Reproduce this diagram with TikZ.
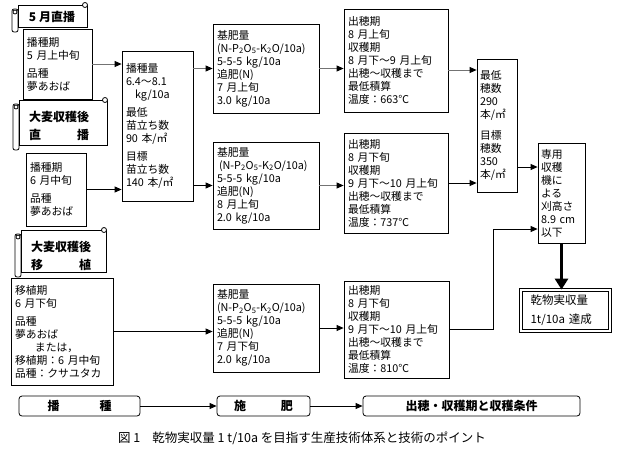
\documentclass[tikz,border=0pt]{standalone}
\usepackage{fontspec}
\setmainfont{Noto Sans CJK JP}
\usetikzlibrary{arrows.meta}

% scroll shaped banner: main rectangle (x1,y1)-(x2,y2), roll on the left
\newcommand{\scrollbanner}[4]{%
  \draw[fill=white, rounded corners=2pt] (#1,#2+4) -- (#1-6,#2+4) -- (#1-6,#4+5) -- (#1,#4+5) -- cycle;
  \draw[fill=white] (#1,#2) rectangle (#3,#4);
  \draw (#1-3,#2+7) circle (2pt);
  \draw[fill=white] (#3-2,#2) circle (2.5pt);
}

\tikzset{
  box/.style={draw, fill=white, align=left, inner sep=4pt,
    font=\fontsize{10.8}{13}\selectfont},
  bantext/.style={align=left, inner sep=0pt,
    font=\bfseries\fontsize{12}{18}\selectfont},
  stagebox/.style={draw, rounded corners=3pt, minimum height=20pt, inner sep=0pt,
    font=\bfseries\fontsize{12}{14}\selectfont},
  conn/.style={-{Triangle[length=7pt,width=6pt]}},
  grayconn/.style={draw=black!55, -{Triangle[length=7pt,width=6pt,color=black]}},
  bigconn/.style={line width=3pt, -{Triangle[length=11pt,width=13pt]}}
}

\begin{document}
\begin{tikzpicture}[x=1pt, y=-1pt, line width=0.8pt]
  \useasboundingbox (0,0) rectangle (618,448);

  % Banners
  \scrollbanner{18}{5}{87}{27}
  \scrollbanner{19}{100}{107}{145}
  \scrollbanner{21}{230}{106}{272}
  \node[bantext] (ban1) at (52,16.5) {5 月直播};
  \node[bantext] (ban2) at (59,126) {大麦収穫後\\\makebox[60pt]{直\hfill 播}};
  \node[bantext] (ban3) at (61,256) {大麦収穫後\\\makebox[60pt]{移\hfill 植}};

  % Sowing
  \node[box, minimum width=69pt, minimum height=70pt, text width=61pt] (A1) at (57.5,64)
    {播種期\\5 月上中旬\\[5pt]品種\\夢あおば};
  \node[box, minimum width=60pt, minimum height=73pt, text width=52pt] (A2) at (56,189.5)
    {播種期\\6 月中旬\\[5pt]品種\\夢あおば};
  \node[box, minimum width=102pt, minimum height=107pt, text width=94pt] (A3) at (62,331.5)
    {移植期\\6 月下旬\\[5pt]品種\\夢あおば\\\hspace*{20pt}または，\\移植期：6 月中旬\\品種：クサユタカ};
  \node[box, minimum width=71pt, minimum height=150pt, text width=63pt] (B1) at (157.5,126)
    {播種量\\6.4～8.1\\\hspace*{9pt}kg/10a\\[5pt]最低\\苗立ち数\\90 本/㎡\\[5pt]目標\\苗立ち数\\140 本/㎡};

  % Fertilizer
  \node[box, minimum width=106pt, minimum height=89pt, text width=98pt] (C1) at (266,68.5)
    {基肥量\\(N-P\textsubscript{2}O\textsubscript{5}-K\textsubscript{2}O/10a)\\5-5-5 kg/10a\\追肥(N)\\7 月上旬\\3.0 kg/10a};
  \node[box, minimum width=106pt, minimum height=87pt, text width=98pt] (C2) at (266,185.5)
    {基肥量\\\hspace*{2pt}(N-P\textsubscript{2}O\textsubscript{5}-K\textsubscript{2}O/10a)\\5-5-5 kg/10a\\追肥(N)\\8 月上旬\\2.0 kg/10a};
  \node[box, minimum width=106pt, minimum height=88pt, text width=98pt] (C3) at (266,328)
    {基肥量\\(N-P\textsubscript{2}O\textsubscript{5}-K\textsubscript{2}O/10a)\\5-5-5 kg/10a\\追肥(N)\\7 月下旬\\2.0 kg/10a};

  % Heading and harvest
  \node[box, minimum width=104pt, minimum height=103pt, text width=96pt] (D1) at (396,60.5)
    {出穂期\\8 月上旬\\収穫期\\8 月下～9 月上旬\\出穂～収穫まで\\最低積算\\温度：663℃};
  \node[box, minimum width=104pt, minimum height=100pt, text width=96pt] (D2) at (396,183)
    {出穂期\\8 月下旬\\収穫期\\9 月下～10 月上旬\\出穂～収穫まで\\最低積算\\温度：737℃};
  \node[box, minimum width=105pt, minimum height=97pt, text width=97pt] (D3) at (396.5,329.5)
    {出穂期\\8 月下旬\\収穫期\\9 月下～10 月上旬\\出穂～収穫まで\\最低積算\\温度：810℃};
  \node[box, minimum width=40pt, minimum height=133pt, text width=34pt, inner sep=3pt] (E) at (497,125.5)
    {最低\\穂数\\290\\本/㎡\\[8pt]目標\\穂数\\350\\本/㎡};
  \node[box, minimum width=47pt, minimum height=100pt, text width=41pt, inner sep=3pt] (F) at (561.5,193)
    {専用\\収穫\\機に\\よる\\刈高さ\\8.9 cm\\以下};
  \node[box, double, double distance=2pt, minimum width=89pt, minimum height=41pt, text width=70pt,
    font=\fontsize{11.5}{15}\selectfont] (G) at (565.5,310.5)
    {乾物実収量\\[4pt]1t/10a 達成};

  % Stages
  \node[stagebox, minimum width=121pt] (P1) at (79.5,406) {播\hspace{40pt}種};
  \node[stagebox, minimum width=93pt] (P2) at (263.5,406) {施\hspace{35pt}肥};
  \node[stagebox, minimum width=217pt] (P3) at (471.5,406) {出穂・収穫期と収穫条件};

  \node[font=\fontsize{12.5}{14}\selectfont] (cap) at (302,438)
    {図 1\hspace{12pt}乾物実収量 1 t/10a を目指す生産技術体系と技術のポイント};

  % Edges
  \draw[grayconn] (A1.east) -- (A1.east -| B1.west);
  \draw[conn] (A2.east) -- (A2.east -| B1.west);
  \draw[grayconn] (B1.east |- C1.west) -- (C1.west);
  \draw[conn] (B1.east |- C2.west) -- (C2.west);
  \draw[conn] (A3.east) -- (A3.east -| C3.west);
  \draw[grayconn] (C1.east) -- (C1.east -| D1.west);
  \draw[grayconn] (C2.east) -- (C2.east -| D2.west);
  \draw[conn] (C3.east) -- (C3.east -| D3.west);
  \draw[grayconn] ([yshift=-9.5pt]D1.east) -- ([yshift=-9.5pt]D1.east -| E.west);
  \draw[conn] (D2.east) -- (D2.east -| E.west);
  \draw[conn] ([yshift=26pt]F.west -| E.east) -- ([yshift=26pt]F.west);
  \coordinate (bend) at (493,229);
  \draw[conn] (D3.east) -| (bend) -- (bend -| F.west);
  \draw[bigconn] (F.south) -- (F.south |- G.north);
  \draw[conn] (P1.east) -- (P2.west);
  \draw[conn] (P2.east) -- (P3.west);
\end{tikzpicture}
\end{document}
